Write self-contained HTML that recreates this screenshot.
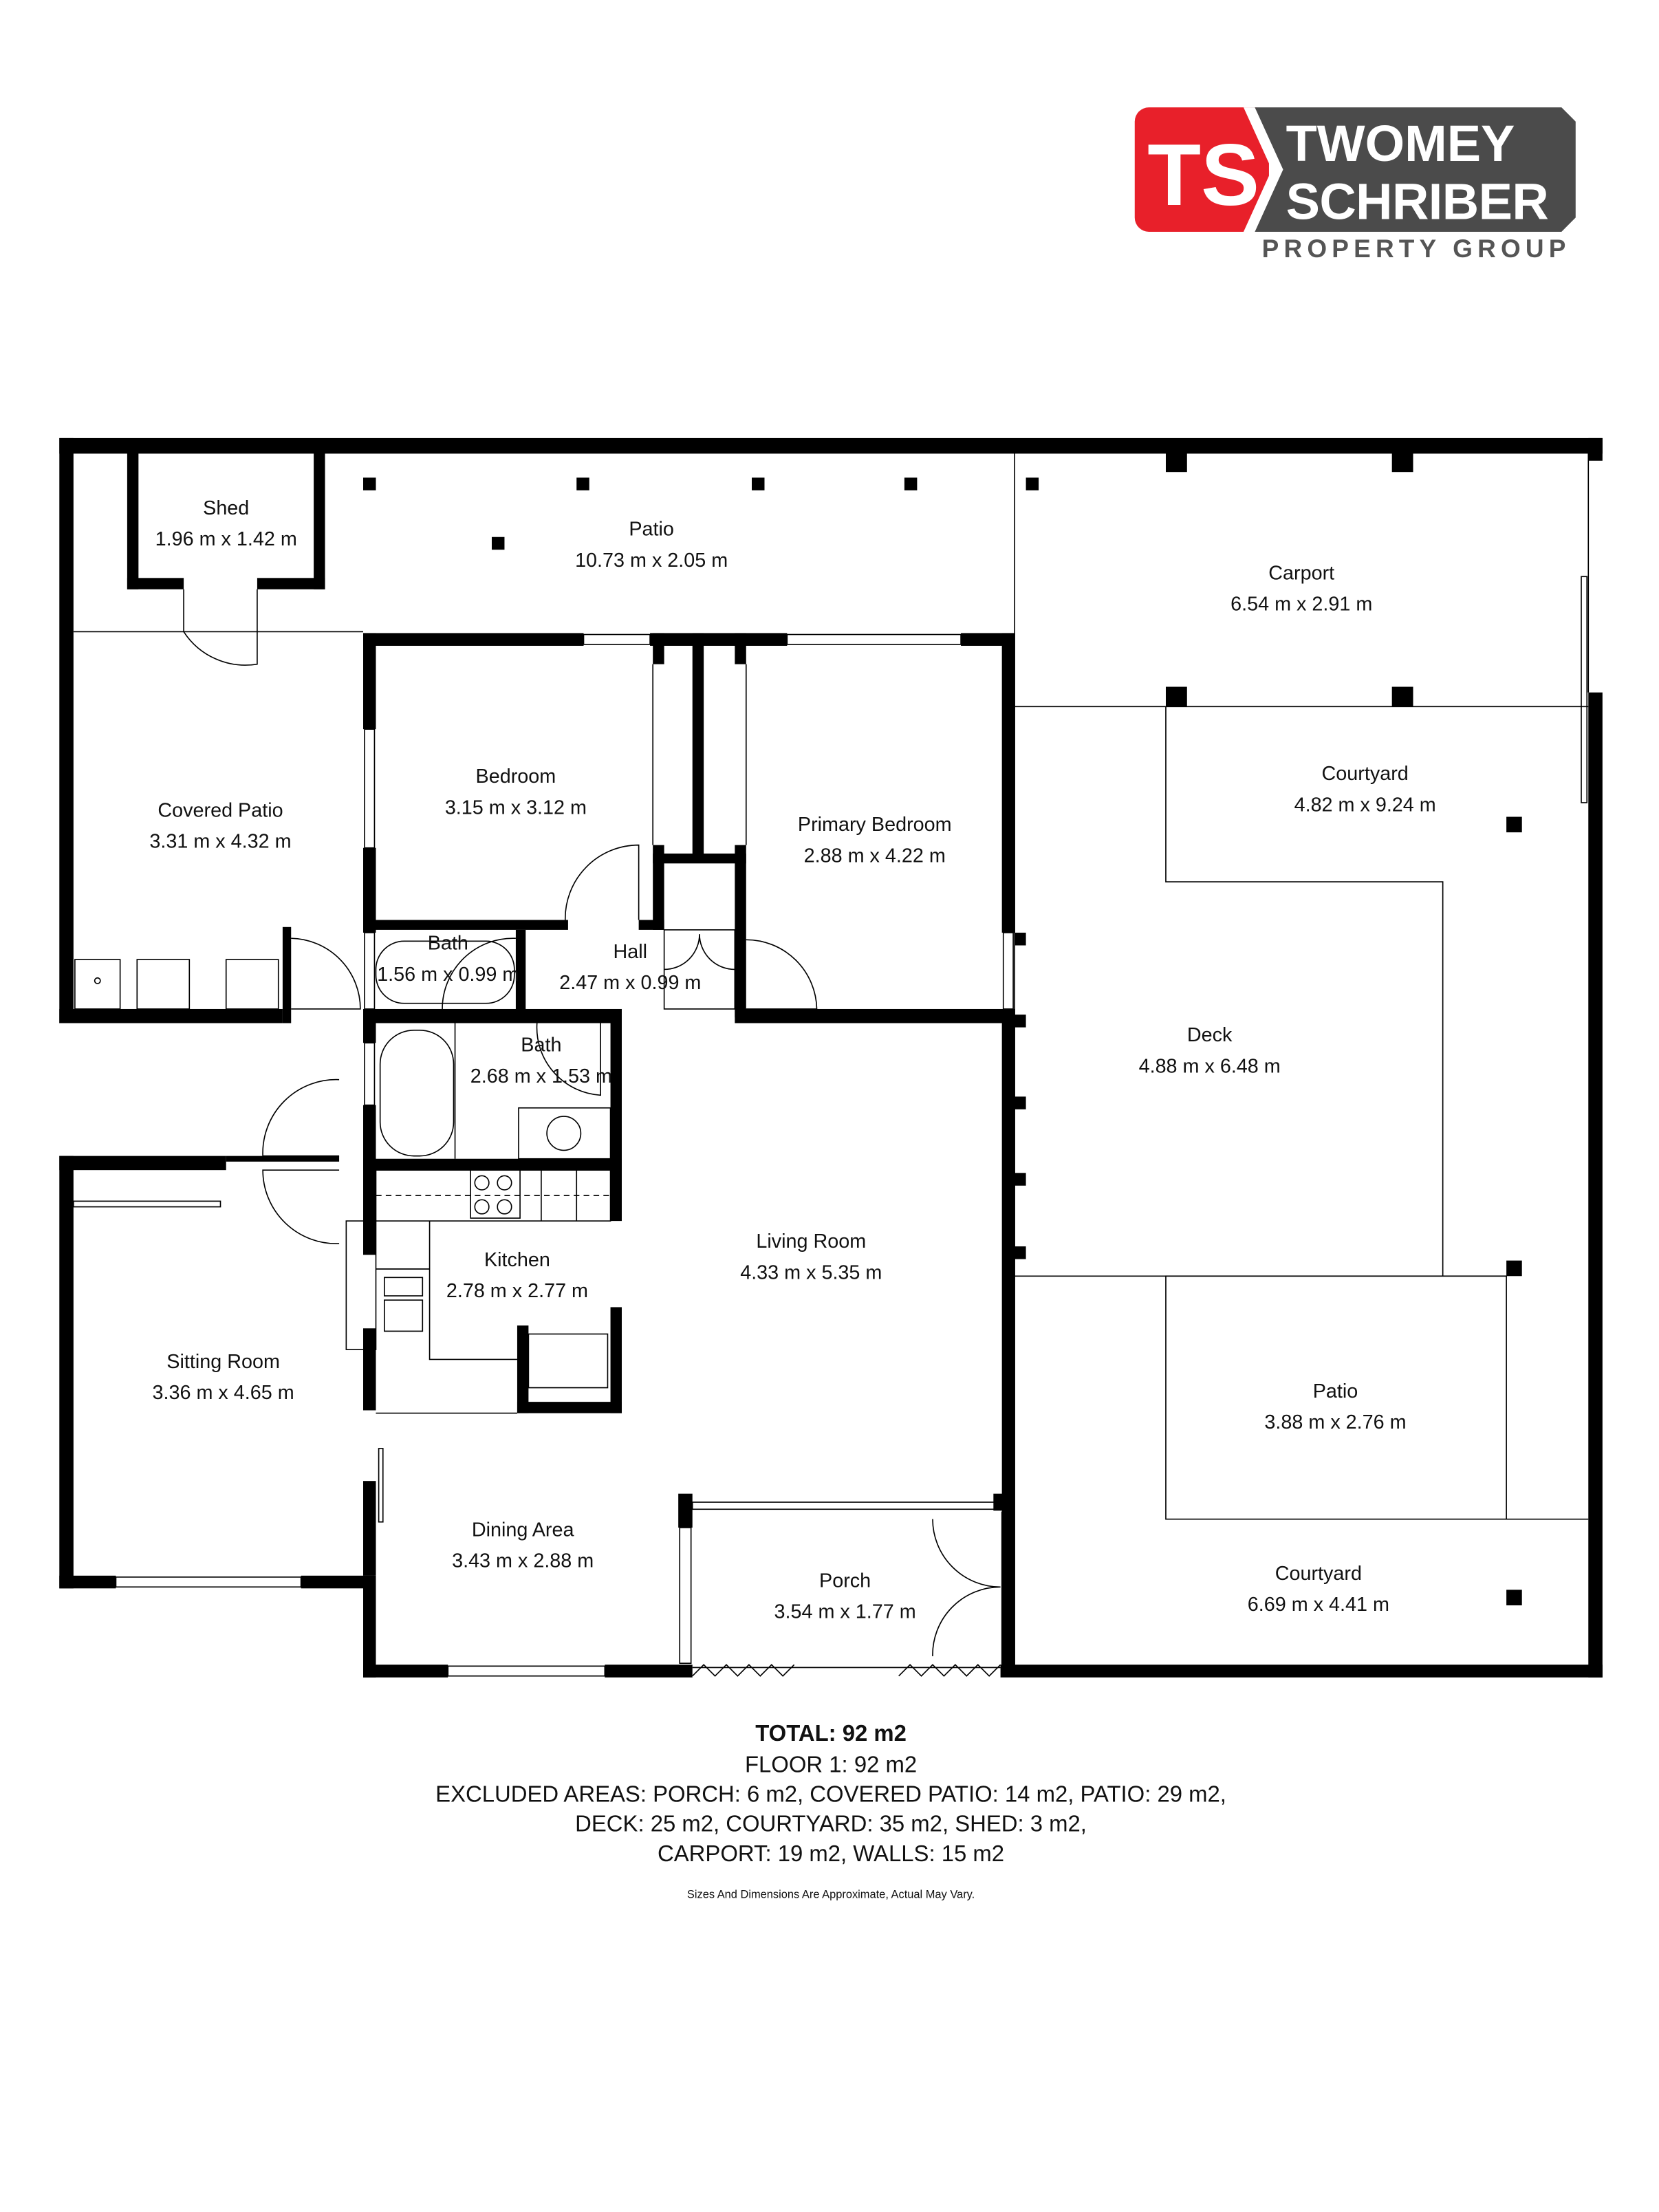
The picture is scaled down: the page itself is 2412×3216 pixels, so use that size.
<!DOCTYPE html>
<html><head><meta charset="utf-8"><style>
html,body{margin:0;padding:0;background:#fff}
svg{display:block}
text{font-family:"Liberation Sans",sans-serif;fill:#111}
.l{font-size:14px;text-anchor:middle}
</style></head><body>
<svg width="2412" height="3216" viewBox="0 0 1174 1565.3" preserveAspectRatio="none" xmlns="http://www.w3.org/2000/svg">
<rect width="1174" height="1566" fill="#fff"/>
<!-- logo -->
<rect x="803" y="76" width="95" height="88" rx="10" fill="#e8202a"/>
<polygon points="885,76 1105,76 1115,86 1115,154 1105,164 885,164 905,120" fill="#4b4b4b"/>
<polygon points="880,76 888,76 908,120 888,164 880,164 900,120" fill="#fff"/>
<text x="812" y="145" style="font-size:62px;font-weight:bold;fill:#fff">TS</text>
<text x="910" y="114" style="font-size:36px;font-weight:bold;fill:#fff">TWOMEY</text>
<text x="910" y="155" style="font-size:36px;font-weight:bold;fill:#fff" textLength="186">SCHRIBER</text>
<text x="893" y="182" style="font-size:18px;font-weight:bold;fill:#555" textLength="215">PROPERTY GROUP</text>

<g fill="#000">
<rect x="42" y="310" width="1092" height="11"/>
<rect x="42" y="310" width="10" height="414"/>
<rect x="42" y="714" width="158" height="10"/>
<rect x="200" y="656" width="6" height="68"/>
<rect x="1124" y="490" width="10" height="697"/>
<rect x="1124" y="310" width="10" height="16"/>
<rect x="708" y="1178" width="426" height="9"/>
<rect x="257" y="1178" width="60" height="9"/>
<rect x="428" y="1178" width="62" height="9"/>
<rect x="42" y="818" width="10" height="306"/>
<rect x="42" y="818" width="118" height="10"/>
<rect x="160" y="818" width="80" height="4"/>
<rect x="42" y="1115" width="40" height="9"/>
<rect x="213" y="1115" width="52" height="9"/>
<rect x="257" y="1115" width="9" height="72"/>
<rect x="90" y="320" width="8" height="97"/>
<rect x="222" y="320" width="8" height="97"/>
<rect x="90" y="409" width="40" height="8"/>
<rect x="182" y="409" width="48" height="8"/>
<rect x="257" y="448" width="156" height="9"/>
<rect x="460" y="448" width="97" height="9"/>
<rect x="680" y="448" width="38" height="9"/>
<rect x="257" y="448" width="9" height="68"/>
<rect x="257" y="600" width="9" height="60"/>
<rect x="709" y="448" width="9" height="212"/>
<rect x="266" y="651" width="136" height="7"/>
<rect x="452" y="651" width="18" height="7"/>
<rect x="462" y="448" width="8" height="22"/>
<rect x="462" y="598" width="8" height="60"/>
<rect x="490" y="448" width="8" height="162"/>
<rect x="520" y="448" width="8" height="22"/>
<rect x="520" y="598" width="8" height="122"/>
<rect x="462" y="604" width="66" height="7"/>
<rect x="365" y="658" width="7" height="66"/>
<rect x="257" y="714" width="183" height="10"/>
<rect x="520" y="714" width="198" height="10"/>
<rect x="257" y="724" width="9" height="14"/>
<rect x="257" y="782" width="9" height="106"/>
<rect x="432" y="724" width="8" height="140"/>
<rect x="432" y="925" width="8" height="75"/>
<rect x="257" y="820" width="183" height="8"/>
<rect x="366" y="938" width="8" height="62"/>
<rect x="366" y="992" width="74" height="8"/>
<rect x="257" y="940" width="9" height="58"/>
<rect x="257" y="1048" width="9" height="67"/>
<rect x="709" y="724" width="9" height="454"/>
<rect x="480" y="1057" width="10" height="24"/>
<rect x="703" y="1057" width="15" height="12"/>
<rect x="825" y="320" width="15" height="14"/><rect x="985" y="320" width="15" height="14"/>
<rect x="825" y="486" width="15" height="14"/><rect x="985" y="486" width="15" height="14"/>
<rect x="1066" y="578" width="11" height="11"/><rect x="1066" y="892" width="11" height="11"/>
<rect x="1066" y="1125" width="11" height="11"/>
<rect x="257" y="338" width="9" height="9"/><rect x="408" y="338" width="9" height="9"/>
<rect x="532" y="338" width="9" height="9"/><rect x="640" y="338" width="9" height="9"/>
<rect x="348" y="380" width="9" height="9"/><rect x="726" y="338" width="9" height="9"/>
<rect x="718" y="660" width="8" height="9"/><rect x="718" y="718" width="8" height="9"/>
<rect x="718" y="776" width="8" height="9"/><rect x="718" y="830" width="8" height="9"/>
<rect x="718" y="882" width="8" height="9"/>
</g>
<g fill="none" stroke="#000" stroke-width="0.8">
<line x1="52" y1="447" x2="257" y2="447"/>
<line x1="718" y1="321" x2="718" y2="1180"/>
<line x1="718" y1="500" x2="1124" y2="500"/>
<line x1="1124" y1="321" x2="1124" y2="490"/>
<polyline points="825,500 825,624 1021,624 1021,903"/>
<line x1="718" y1="903" x2="1066" y2="903"/>
<rect x="825" y="903" width="241" height="172"/>
<line x1="1066" y1="1075" x2="1124" y2="1075"/>
<rect x="1119" y="408" width="4" height="160"/>
<rect x="413" y="449" width="47" height="7"/><rect x="557" y="449" width="123" height="7"/>
<rect x="258" y="516" width="7" height="84"/><rect x="258" y="660" width="7" height="54"/>
<rect x="258" y="738" width="7" height="44"/><rect x="710" y="660" width="7" height="54"/>
<rect x="710" y="724" width="7" height="160"/>
<rect x="82" y="1116" width="131" height="7"/><rect x="317" y="1179" width="111" height="7"/>
<rect x="52" y="850" width="104" height="4"/>
<line x1="462" y1="470" x2="462" y2="598"/><line x1="528" y1="470" x2="528" y2="598"/>
<rect x="490" y="1063" width="218" height="5"/>
<rect x="481" y="1081" width="8" height="96"/>
<rect x="709" y="1070" width="8" height="108"/>
<line x1="490" y1="1180" x2="708" y2="1180"/>
<polyline points="490,1186 498,1178 506,1186 514,1178 522,1186 530,1178 538,1186 546,1178 554,1186 562,1178"/>
<polyline points="636,1186 644,1178 652,1186 660,1178 668,1186 676,1178 684,1186 692,1178 700,1186 708,1178"/>
<path d="M130 417 L130 447 A52 52 0 0 0 182 470 L182 417"/>
<path d="M206 664 A50 50 0 0 1 255 714 L206 714"/>
<path d="M400 651 A52 52 0 0 1 452 598 L452 651"/>
<path d="M313 714 A50 50 0 0 1 365 664"/>
<path d="M528 665 A50 50 0 0 1 578 714 L528 714"/>
<rect x="470" y="658" width="50" height="56"/>
<path d="M470 686 A25 25 0 0 0 495 661 A25 25 0 0 0 520 686"/>
<path d="M240 764 A52 52 0 0 0 186 818 L240 818"/>
<path d="M240 880 A52 52 0 0 1 186 828 L240 828"/>
<path d="M660 1075 A48 48 0 0 0 708 1123 A48 48 0 0 0 660 1172"/>
<path d="M425 724 L425 775 A48 48 0 0 1 380 724"/>
<rect x="53" y="679" width="32" height="35"/><rect x="97" y="679" width="37" height="35"/><rect x="160" y="679" width="37" height="35"/>
<circle cx="69" cy="694" r="2"/>
<rect x="269" y="729" width="52" height="89" rx="24"/>
<line x1="322" y1="724" x2="322" y2="820"/>
<rect x="367" y="784" width="65" height="36"/><circle cx="399" cy="802" r="12"/>
<rect x="266" y="666" width="98" height="44" rx="20"/>
<rect x="266" y="828" width="166" height="36"/>
<line x1="266" y1="846" x2="432" y2="846" stroke-dasharray="4,3"/>
<rect x="333" y="828" width="35" height="34"/>
<circle cx="341" cy="837" r="5"/><circle cx="357" cy="837" r="5"/><circle cx="341" cy="854" r="5"/><circle cx="357" cy="854" r="5"/>
<line x1="383" y1="828" x2="383" y2="864"/><line x1="408" y1="828" x2="408" y2="864"/>
<rect x="245" y="864" width="21" height="91"/>
<polyline points="304,864 304,962 366,962"/>
<line x1="266" y1="898" x2="304" y2="898"/>
<rect x="272" y="904" width="27" height="13"/><rect x="272" y="920" width="27" height="22"/>
<rect x="374" y="944" width="56" height="38"/>
<line x1="266" y1="1000" x2="366" y2="1000"/>
<rect x="268" y="1025" width="3" height="52"/>
</g>
<g>
<text class="l" x="160" y="364">Shed</text><text class="l" x="160" y="386">1.96 m x 1.42 m</text>
<text class="l" x="461" y="379">Patio</text><text class="l" x="461" y="401">10.73 m x 2.05 m</text>
<text class="l" x="921" y="410">Carport</text><text class="l" x="921" y="432">6.54 m x 2.91 m</text>
<text class="l" x="966" y="552">Courtyard</text><text class="l" x="966" y="574">4.82 m x 9.24 m</text>
<text class="l" x="365" y="554">Bedroom</text><text class="l" x="365" y="576">3.15 m x 3.12 m</text>
<text class="l" x="156" y="578">Covered Patio</text><text class="l" x="156" y="600">3.31 m x 4.32 m</text>
<text class="l" x="619" y="588">Primary Bedroom</text><text class="l" x="619" y="610">2.88 m x 4.22 m</text>
<text class="l" x="317" y="672">Bath</text><text class="l" x="317" y="694">1.56 m x 0.99 m</text>
<text class="l" x="446" y="678">Hall</text><text class="l" x="446" y="700">2.47 m x 0.99 m</text>
<text class="l" x="856" y="737">Deck</text><text class="l" x="856" y="759">4.88 m x 6.48 m</text>
<text class="l" x="383" y="744">Bath</text><text class="l" x="383" y="766">2.68 m x 1.53 m</text>
<text class="l" x="574" y="883">Living Room</text><text class="l" x="574" y="905">4.33 m x 5.35 m</text>
<text class="l" x="366" y="896">Kitchen</text><text class="l" x="366" y="918">2.78 m x 2.77 m</text>
<text class="l" x="158" y="968">Sitting Room</text><text class="l" x="158" y="990">3.36 m x 4.65 m</text>
<text class="l" x="945" y="989">Patio</text><text class="l" x="945" y="1011">3.88 m x 2.76 m</text>
<text class="l" x="370" y="1087">Dining Area</text><text class="l" x="370" y="1109">3.43 m x 2.88 m</text>
<text class="l" x="598" y="1123">Porch</text><text class="l" x="598" y="1145">3.54 m x 1.77 m</text>
<text class="l" x="933" y="1118">Courtyard</text><text class="l" x="933" y="1140">6.69 m x 4.41 m</text>
</g>
<text x="588" y="1232" style="font-size:16px;font-weight:bold;text-anchor:middle">TOTAL: 92 m2</text>
<text x="588" y="1254" style="font-size:16px;text-anchor:middle">FLOOR 1: 92 m2</text>
<text x="588" y="1275" style="font-size:16px;text-anchor:middle">EXCLUDED AREAS: PORCH: 6 m2, COVERED PATIO: 14 m2, PATIO: 29 m2,</text>
<text x="588" y="1296" style="font-size:16px;text-anchor:middle">DECK: 25 m2, COURTYARD: 35 m2, SHED: 3 m2,</text>
<text x="588" y="1317" style="font-size:16px;text-anchor:middle">CARPORT: 19 m2, WALLS: 15 m2</text>
<text x="588" y="1343" style="font-size:8px;text-anchor:middle">Sizes And Dimensions Are Approximate, Actual May Vary.</text>
</svg>
</body></html>
